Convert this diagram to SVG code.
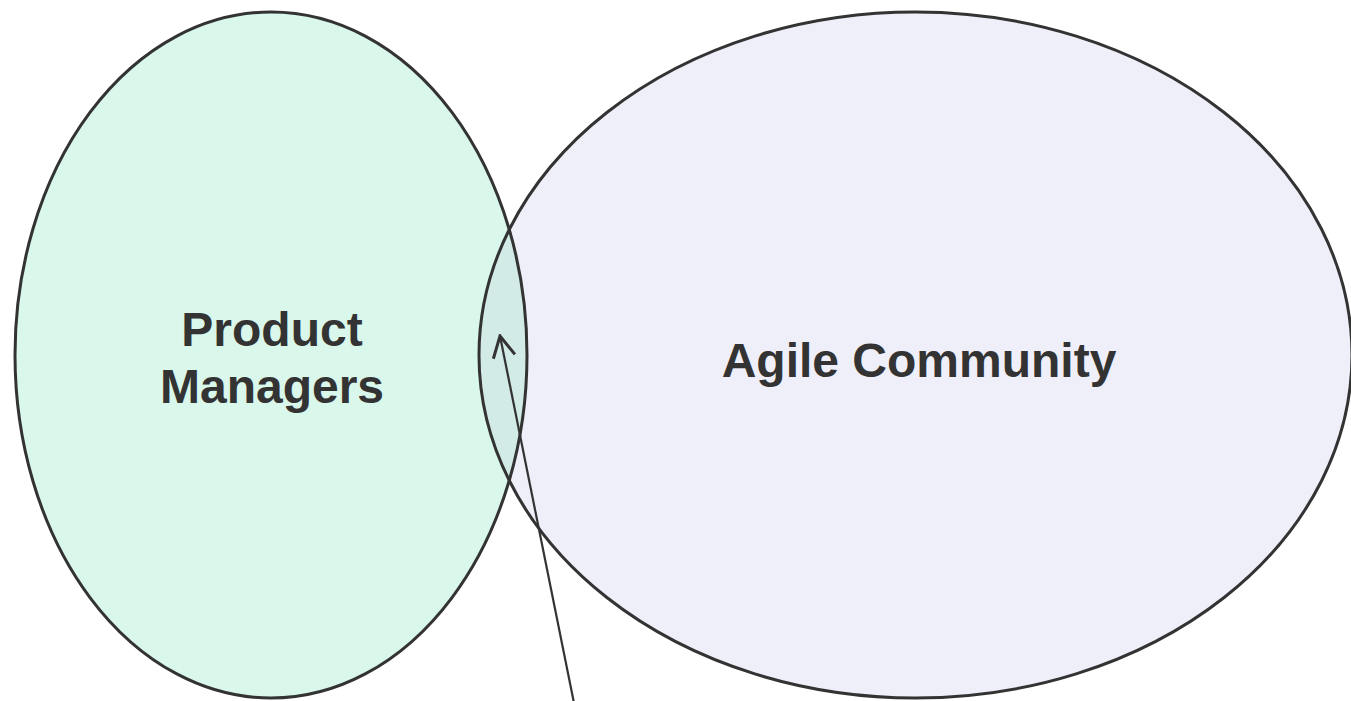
<svg xmlns="http://www.w3.org/2000/svg" width="1351" height="701" viewBox="0 0 1351 701">
  <style>
    .outline { fill: none; stroke: #333333; stroke-width: 3; }
    .label { font-family: "Liberation Sans", Arial, sans-serif; font-weight: bold; font-size: 48px; fill: #333333; text-anchor: middle; }
    .conn { fill: none; stroke: #333333; stroke-width: 2.2; }
  </style>
  <defs>
    <clipPath id="clipLeft">
      <ellipse cx="271" cy="355" rx="256" ry="343"/>
    </clipPath>
    <marker id="openArrow" viewBox="-26 -14 28 28" refX="0" refY="0" markerWidth="28" markerHeight="28" markerUnits="userSpaceOnUse" orient="auto">
      <path d="M-21,-11 L0,0 L-21,11" fill="none" stroke="#333333" stroke-width="3" stroke-linejoin="miter"/>
    </marker>
  </defs>
  <rect width="1351" height="701" fill="#ffffff"/>
  <g id="product-managers">
    <ellipse cx="271" cy="355" rx="256" ry="343" fill="#d9f7ea"/>
  </g>
  <g id="agile-community">
    <ellipse cx="915.5" cy="355" rx="436.5" ry="343" fill="#efeffa"/>
  </g>
  <g id="overlap">
    <ellipse cx="915.5" cy="355" rx="436.5" ry="343" fill="#d2ebe7" clip-path="url(#clipLeft)"/>
  </g>
  <g id="outlines">
    <ellipse class="outline" cx="271" cy="355" rx="256" ry="343"/>
    <ellipse class="outline" cx="915.5" cy="355" rx="436.5" ry="343"/>
  </g>
  <g id="labels">
    <text class="label" x="272" y="346">Product</text>
    <text class="label" x="272" y="403">Managers</text>
    <text class="label" x="919" y="377">Agile Community</text>
  </g>
  <g id="connectors">
    <line class="conn" x1="574" y1="703" x2="500" y2="336" marker-end="url(#openArrow)"/>
  </g>
</svg>
